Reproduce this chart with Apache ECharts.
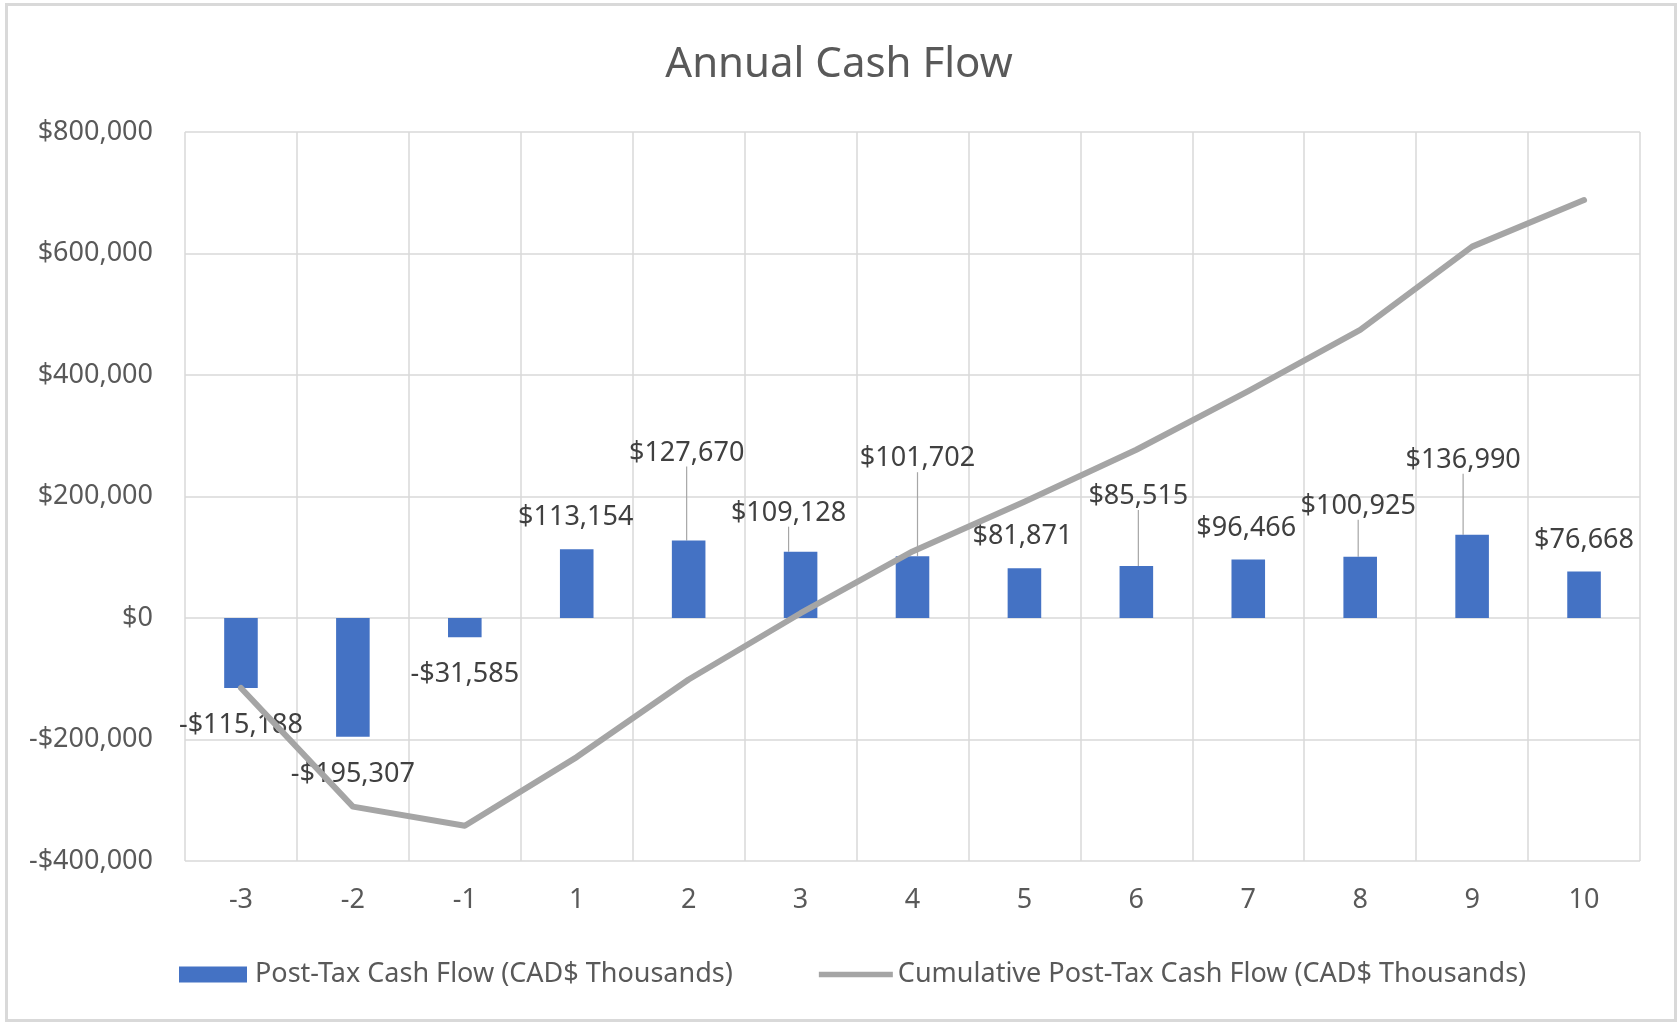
<!DOCTYPE html>
<html><head><meta charset="utf-8">
<script src="https://cdn.jsdelivr.net/npm/echarts@6/dist/echarts.min.js"></script>
<style>html,body{margin:0;padding:0;background:#fff}#c{width:1678px;height:1023px}</style>
</head><body><div id="c"></div>
<script>
const years = ['-3','-2','-1','1','2','3','4','5','6','7','8','9','10'];
const postTax = [-115188,-195307,-31585,113154,127670,109128,101702,81871,85515,96466,100925,136990,76668];
const cumulative = [-115188,-310495,-342080,-228926,-101256,7872,109574,191445,276960,373426,474351,611341,688009];
const yMin = -400000, yMax = 800000, yStep = 200000;
const seriesNames = ['Post-Tax Cash Flow (CAD$ Thousands)','Cumulative Post-Tax Cash Flow (CAD$ Thousands)'];

// label placement tweaks (styling only)
const labelShift = [[0,0],[0,0],[0,0],[-1,0],[-2,-56],[-12,-7],[5,-66],[-2,0],[2,-38],[-2,0],[-2,-19],[-9,-43],[0,0]];
const leader = [false,false,false,false,true,true,true,false,true,false,true,true,false];

const money = v => (v < 0 ? '-' : '') + '$' + Math.abs(v).toLocaleString('en-US');
const FONT = '"Noto Sans", sans-serif';

const chart = echarts.init(document.getElementById('c'), null, {renderer:'canvas'});
chart.setOption({
  backgroundColor:'#ffffff',
  animation:false,
  textStyle:{fontFamily:FONT},
  title:{text:'Annual Cash Flow', left:'center', top:39,
    textStyle:{fontFamily:FONT, fontSize:42, fontWeight:'normal', color:'#595959'}},
  graphic:[{type:'rect', shape:{x:6.5,y:4.5,width:1669,height:1016},
    style:{fill:'none', stroke:'#d9d9d9', lineWidth:3}, silent:true}],
  grid:{left:185, right:38, top:132, bottom:162, containLabel:false},
  legend:{top:956, left:174, itemGap:86, itemWidth:74, itemHeight:16,
    textStyle:{fontFamily:FONT, fontSize:27, color:'#595959'},
    data:[{name:seriesNames[0], icon:'path://M0,0H68V16H0Z'},
          {name:seriesNames[1], icon:'path://M0,0H80V6H0Z'}]},
  xAxis:{type:'category', data:years,
    axisLine:{show:false}, axisTick:{show:false},
    axisLabel:{fontFamily:FONT, fontSize:27, color:'#595959', margin:26},
    splitLine:{show:true, lineStyle:{color:'#d9d9d9', width:1.5}}},
  yAxis:{type:'value', min:yMin, max:yMax, interval:yStep,
    axisLine:{show:false}, axisTick:{show:false},
    axisLabel:{fontFamily:FONT, fontSize:27, color:'#595959', margin:32, formatter:money},
    splitLine:{show:true, lineStyle:{color:'#d9d9d9', width:1.5}}},
  series:[
    {name:seriesNames[0], type:'bar', barWidth:'30%', z:2,
     itemStyle:{color:'#4472C4'},
     data:postTax.map((v,i)=>({value:v,
        label:{position: v<0 ? 'bottom' : 'top', distance: v<0 ? 24 : 18},
        labelLine:{show:leader[i]}})),
     label:{show:true, fontFamily:FONT, fontSize:27, color:'#404040', formatter:p=>money(p.value)},
     labelLine:{lineStyle:{color:'#a6a6a6', width:1.2}},
     labelLayout:p=>({dx:labelShift[p.dataIndex][0], dy:labelShift[p.dataIndex][1]})
    },
    {name:seriesNames[1], type:'line', data:cumulative, z:3,
     symbol:'none', showSymbol:false,
     itemStyle:{color:'#A5A5A5'},
     lineStyle:{color:'#A5A5A5', width:6, join:'round', cap:'round'}}
  ]
});
</script></body></html>
